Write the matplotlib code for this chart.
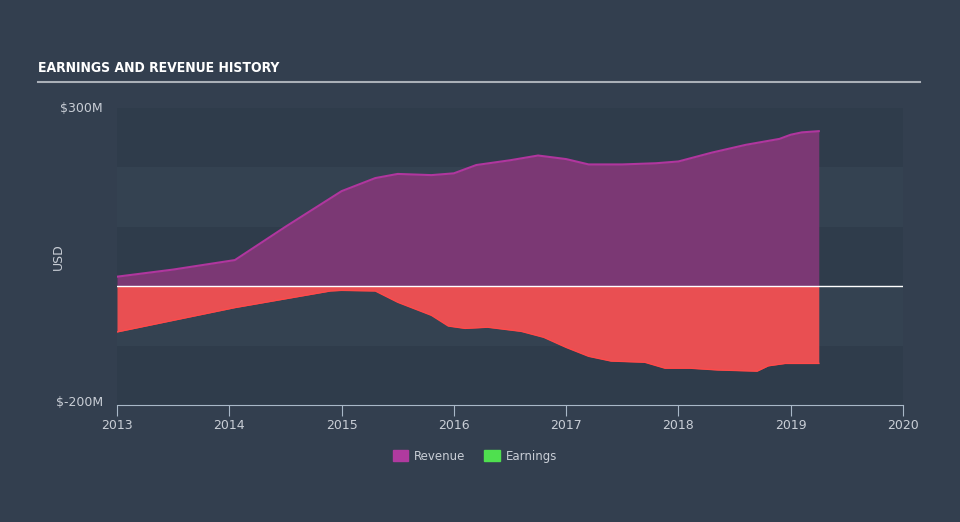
import matplotlib.pyplot as plt
from matplotlib.patches import Patch

# data (values in $M)
rev_years = [2013.0, 2013.5, 2014.05, 2014.5, 2015.0, 2015.3, 2015.5, 2015.8, 2016.0, 2016.2,
             2016.5, 2016.75, 2017.0, 2017.2, 2017.5, 2017.8, 2018.0, 2018.3, 2018.6, 2018.9,
             2019.0, 2019.1, 2019.25]
revenue = [16, 28, 44, 100, 160, 182, 189, 187, 190, 204,
           212, 220, 214, 205, 205, 207, 210, 225, 238, 248,
           255, 259, 261]

earn_years = [2013.0, 2014.05, 2014.9, 2015.0, 2015.3, 2015.5, 2015.8, 2015.95, 2016.1, 2016.3,
              2016.6, 2016.8, 2017.0, 2017.2, 2017.4, 2017.7, 2017.88, 2018.1, 2018.35, 2018.7,
              2018.8, 2018.95, 2019.25]
earnings = [-77, -36, -8, -7, -8, -27, -49, -67, -71, -69,
            -76, -86, -103, -118, -126, -128, -138, -138, -141, -143,
            -134, -130, -130]

year_ticks = [2013, 2014, 2015, 2016, 2017, 2018, 2019, 2020]

bg = '#333f4f'
txt = '#c9ced6'

fig = plt.figure(figsize=(9.6, 5.22), dpi=100, facecolor=bg)
ax = fig.add_axes([117/960, 1-405/522, (903-117)/960, (405-108)/522])
ax.set_facecolor(bg)

# alternating bands
bands = ['#2f3c4b', '#344251', '#2f3c4b', '#344251', '#2f3c4b']
for i, c in enumerate(bands):
    top = 300 - 100*i
    ax.axhspan(top - 100, top, color=c, zorder=0, lw=0)

ax.fill_between(rev_years, 0, revenue, color='#7b3874', lw=0, zorder=2)
ax.plot(rev_years, revenue, color='#b0369e', lw=1.5, zorder=3)
ax.fill_between(earn_years, 0, earnings, color='#e94f52', lw=0, zorder=2)
ax.plot(earn_years, earnings, color='#ff4a4a', lw=1.0, zorder=3)
ax.axhline(0, color='white', lw=1, zorder=4)

ax.set_xlim(2013, 2020)
ax.set_ylim(-200, 300)
for s in ['top', 'right', 'left']:
    ax.spines[s].set_visible(False)
ax.spines['bottom'].set_color('#a9b8c8')
ax.set_xticks(year_ticks)
ax.set_xticklabels([str(y) for y in year_ticks])
ax.tick_params(axis='x', colors='#a9b8c8', length=8, labelcolor=txt, labelsize=9, pad=2)
ax.set_yticks([])

fig.text(103/960, 1-108/522, '$300M', color=txt, fontsize=9, ha='right', va='center')
fig.text(103/960, 1-403/522, '$-200M', color=txt, fontsize=9, ha='right', va='center')
fig.text(58/960, 1-257/522, 'USD', color=txt, fontsize=9, rotation=90, ha='center', va='center')

fig.text(38/960, 1-68/522, 'EARNINGS AND REVENUE HISTORY', color='white', fontsize=10,
         fontweight='bold', fontstretch='condensed', family='DejaVu Sans', ha='left', va='center')
fig.add_artist(plt.Line2D([38/960, 920/960], [1-82/522, 1-82/522], color='#aab0b8', lw=1.5))

handles = [Patch(color='#b03a9f', label='Revenue'), Patch(color='#4fe04f', label='Earnings')]
leg = fig.legend(handles=handles, loc='center', bbox_to_anchor=(475/960, 1-456/522), ncol=2,
                 frameon=False, fontsize=8.5, handlelength=1.3, handleheight=1.1,
                 handletextpad=0.5, columnspacing=1.6)
for t in leg.get_texts():
    t.set_color(txt)

fig.savefig('out.png', dpi=100, facecolor=bg)
